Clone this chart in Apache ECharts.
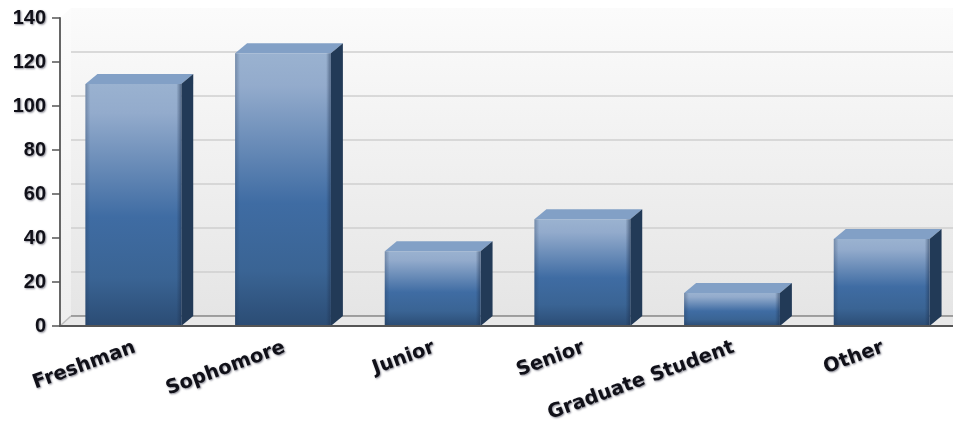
<!DOCTYPE html>
<html><head><meta charset="utf-8">
<style>html,body{margin:0;padding:0;background:#fff}#c{width:953px;height:424px}</style>
<script src="https://cdn.jsdelivr.net/npm/echarts@6/dist/echarts.min.js"></script>
</head><body><div id="c"></div>
<script>
const categories = ["Freshman","Sophomore","Junior","Senior","Graduate Student","Other"];
const values = [110,124,34,48.5,15,39.5];
const yTicks = {min:0,max:140,interval:20};
const DX = 12, DY = 10;
const G = echarts.graphic.LinearGradient;
const chart = echarts.init(document.getElementById('c'),null,{renderer:'canvas'});
const labelBase = {color:'#101018',fontWeight:'bold',textShadowColor:'rgba(40,40,60,.55)',textShadowBlur:2,textShadowOffsetX:1,textShadowOffsetY:1};
function barItem(params, api){
  const idx = api.value(0), v = api.value(1);
  const p = api.coord([idx,v]), b = api.coord([idx,0]);
  const w = api.size([1,0])[0]*0.64;
  const l = p[0]-w/2-1.5, r = l+w, t = p[1], bt = b[1];
  const h = bt-t;
  return {type:'group',children:[
    {type:'polygon',shape:{points:[[l,t],[l+DX,t-DY],[r+DX,t-DY],[r,t]]},style:{fill:'#82a0c6'}},
    {type:'polygon',shape:{points:[[r,t],[r+DX,t-DY],[r+DX,bt-DY],[r,bt]]},style:{fill:'#223a57'}},
    {type:'rect',shape:{x:l,y:t,width:w,height:h},style:{fill:new G(0,0,0,1,[
      {offset:0,color:'#9ab2d0'},{offset:.12,color:'#93abcc'},{offset:.55,color:'#3f6ca3'},{offset:.8,color:'#3a6494'},{offset:1,color:'#2b4c74'}])}},
    {type:'rect',shape:{x:l,y:t,width:w,height:h},style:{fill:new G(0,0,1,0,[
      {offset:0,color:'rgba(30,50,80,.3)'},{offset:.05,color:'rgba(30,50,80,0)'},{offset:.95,color:'rgba(30,50,80,0)'},{offset:1,color:'rgba(30,50,80,.55)'}])}}
  ]};
}
function wallItem(params, api){
  const a = api.coord([0,yTicks.max]), b = api.coord([0,0]);
  const x = params.coordSys.x, r = x+params.coordSys.width;
  return {type:'group',children:[
    {type:'polygon',shape:{points:[[x,b[1]],[x+DX-1,b[1]-DY],[r+DX,b[1]-DY],[r,b[1]]]},style:{fill:'#e8e8e8'}},
    {type:'polygon',shape:{points:[[x,a[1]],[x+DX-1,a[1]-DY],[x+DX-1,b[1]-DY],[x,b[1]]]},style:{fill:new G(0,0,0,1,[{offset:0,color:'#fcfcfc'},{offset:1,color:'#eeeeee'}])}},
    {type:'line',shape:{x1:x,y1:b[1],x2:x+DX-1,y2:b[1]-DY},style:{stroke:'#bdbdbd',lineWidth:1.5}},
    {type:'line',shape:{x1:x+DX-1,y1:b[1]-DY,x2:r+DX,y2:b[1]-DY},style:{stroke:'#8a8a8a',lineWidth:1.5}}
  ]};
}
chart.setOption({
  animation:false,
  backgroundColor:'#fff',
  grid:[
    {left:60,top:18,width:898,height:308,outerBoundsMode:'none',containLabel:false},
    {left:71,top:8,width:898,height:308,outerBoundsMode:'none',show:true,borderWidth:0,z:0,
     backgroundColor:new G(0,0,0,1,[{offset:0,color:'#fbfbfb'},{offset:1,color:'#e5e5e5'}])}
  ],
  xAxis:[
    {gridIndex:0,type:'category',data:categories,z:5,
     axisLine:{lineStyle:{color:'#555',width:2}},
     axisTick:{alignWithLabel:true,length:7,lineStyle:{color:'#555',width:1.5}},
     axisLabel:{...labelBase,fontFamily:'DejaVu Sans',fontSize:19.5,rotate:20,margin:21,interval:0}},
    {gridIndex:1,type:'category',data:categories,show:false}
  ],
  yAxis:[
    {gridIndex:0,type:'value',...yTicks,z:5,
     axisLine:{show:true,lineStyle:{color:'#666',width:2}},
     axisTick:{show:true,length:8,lineStyle:{color:'#555',width:1.5}},
     axisLabel:{...labelBase,fontFamily:'Liberation Sans',fontSize:20,margin:14},splitLine:{show:false}},
    {gridIndex:1,type:'value',...yTicks,z:1,
     axisLine:{show:false},axisTick:{show:false},axisLabel:{show:false},
     splitLine:{show:true,showMaxLine:false,lineStyle:{color:'#cfcfcf',width:1.5}}}
  ],
  series:[
    {type:'custom',xAxisIndex:0,yAxisIndex:0,z:2,silent:true,renderItem:wallItem,data:[[0,0]],clip:false},
    {type:'custom',xAxisIndex:0,yAxisIndex:0,z:4,silent:true,renderItem:barItem,clip:false,
     encode:{x:0,y:1},data:values.map((v,i)=>[i,v])}
  ]
});
</script></body></html>
